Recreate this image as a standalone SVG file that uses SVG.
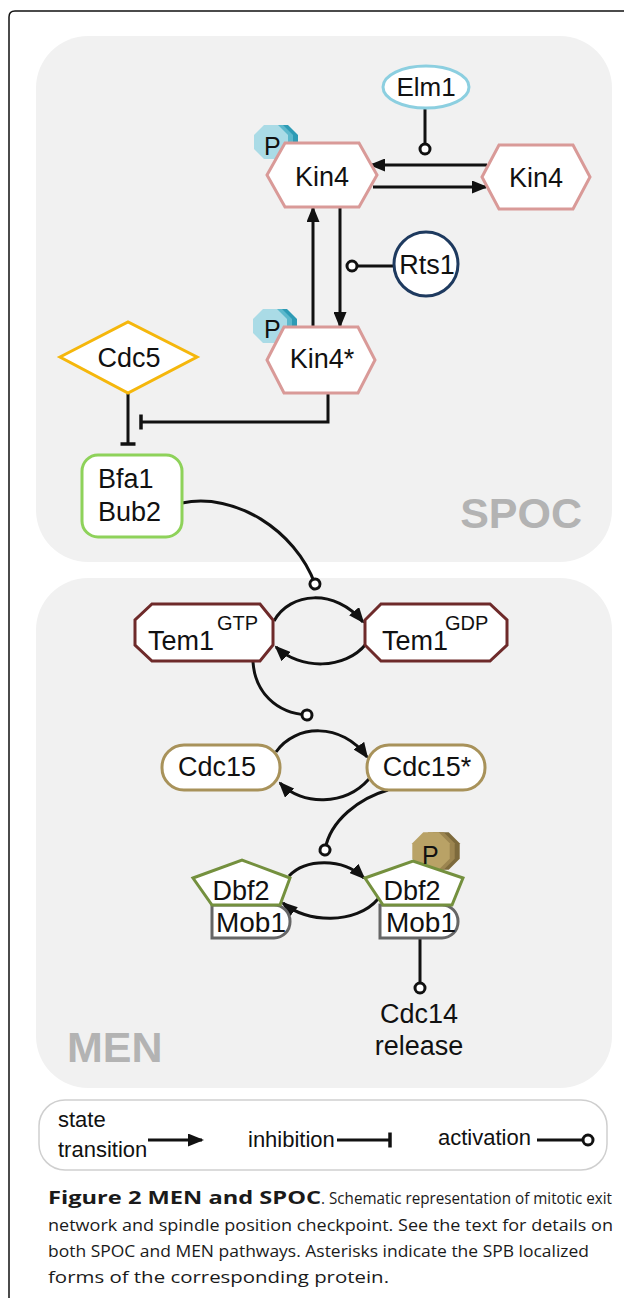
<svg xmlns="http://www.w3.org/2000/svg" width="624" height="1302" viewBox="0 0 624 1302">
<style>
.panel{fill:#f1f1f1}
.lbl{font-family:"Liberation Sans",Arial,sans-serif;font-size:27px;fill:#111}
.c{text-anchor:middle}
.sup{font-family:"Liberation Sans",Arial,sans-serif;font-size:20px;fill:#111}
.big{font-family:"Liberation Sans",Arial,sans-serif;font-size:43px;font-weight:bold;fill:#b3b3b3}
.leg{font-family:"Liberation Sans",Arial,sans-serif;font-size:22px;fill:#111}
.cap{font-family:"Open Sans","Liberation Sans",sans-serif;font-size:16.5px;fill:#1a1a1a}
.capb{font-family:"Open Sans","Liberation Sans",sans-serif;font-size:17px;font-weight:bold;fill:#1a1a1a}
.node{fill:#fff;stroke-width:3;stroke-linejoin:miter}
.kin{stroke:#d99a98}
.tem{stroke:#6e2a2a}
.cdc15{stroke:#a8925a}
.dbf{stroke:#74903e}
.mob{stroke:#666}
.edge{fill:none;stroke:#111;stroke-width:3}
.arr{marker-end:url(#arrow)}
.inh{marker-end:url(#bar)}
.act{marker-end:url(#circ)}
</style>
<defs>
<marker id="arrow" markerUnits="userSpaceOnUse" viewBox="0 0 16 13" refX="14" refY="6.5" markerWidth="16" markerHeight="13" orient="auto">
<path d="M0,0 L16,6.5 L0,13 z" fill="#111"/>
</marker>
<marker id="bar" markerUnits="userSpaceOnUse" viewBox="-2 -9 4 18" refX="0" refY="0" markerWidth="4" markerHeight="18" orient="auto">
<path d="M0,-7.5 L0,7.5" stroke="#111" stroke-width="3.5"/>
</marker>
<marker id="circ" markerUnits="userSpaceOnUse" viewBox="-8 -8 16 16" refX="0" refY="0" markerWidth="16" markerHeight="16" orient="auto">
<circle cx="0" cy="0" r="5" fill="#fff" stroke="#111" stroke-width="3"/>
</marker>
<polygon id="oct" points="7,-17 17,-7 17,7 7,17 -7,17 -17,7 -17,-7 -7,-17"/>
</defs>

<!-- frame -->
<path d="M9 1298 L9 17 Q9 11 15 11 L624 11" fill="none" stroke="#111" stroke-width="1.5"/>

<!-- panels -->
<g id="spoc-panel">
<rect class="panel" x="36" y="36" width="576" height="526" rx="52"/>
<text class="big" x="582" y="528" text-anchor="end">SPOC</text>
</g>
<g id="men-panel">
<rect class="panel" x="36" y="578" width="576" height="510" rx="52"/>
<text class="big" x="67" y="1062">MEN</text>
</g>

<!-- connectors -->
<g id="connectors">
<path class="edge act" d="M425 109 L425 149"/>
<path class="edge arr" d="M487 165 L371 165"/>
<path class="edge arr" d="M373 187 L486 187"/>
<path class="edge arr" d="M313 327 L313 208"/>
<path class="edge arr" d="M340 207 L340 326"/>
<path class="edge act" d="M394 266 L352 266"/>
<path class="edge inh" d="M128 393 L128 444"/>
<path class="edge inh" d="M328 393 L328 422 L141 422"/>
<path class="edge act" d="M182 503 C235 492 295 530 315 584"/>
<path class="edge arr" d="M274 621 C290 592 335 588 363 622"/>
<path class="edge arr" d="M366 644 C345 670 300 670 276 647"/>
<path class="edge act" d="M253 662 C255 692 276 713 307 715"/>
<path class="edge arr" d="M276 752 C295 724 342 722 367 757"/>
<path class="edge arr" d="M369 779 C345 806 302 806 280 783"/>
<path class="edge act" d="M388 790 C360 798 330 820 325 850"/>
<path class="edge arr" d="M289 876 C305 859 342 857 364 878"/>
<path class="edge arr" d="M378 899 C356 925 306 923 283 903"/>
<path class="edge act" d="M420 938 L420 988"/>
</g>

<!-- nodes -->
<g id="elm1">
<ellipse class="node" cx="426" cy="87" rx="43" ry="21" stroke="#8ccfe0"/>
<text class="lbl c" x="426" y="96" style="font-size:26px">Elm1</text>
</g>

<g id="kin4-p">
<use href="#oct" x="281" y="142" fill="#2e9bb5"/>
<use href="#oct" x="276" y="142" fill="#5cb8cc"/>
<use href="#oct" x="271" y="142" fill="#aadbe6"/>
<polygon class="node kin" points="267,175 285,143 359,143 377,175 359,207 285,207"/>
<text class="lbl" x="264" y="155" style="font-size:25px">P</text>
<text class="lbl c" x="322" y="186">Kin4</text>
</g>

<g id="kin4">
<polygon class="node kin" points="482,177 499,145 573,145 590,177 573,209 499,209"/>
<text class="lbl c" x="536" y="187">Kin4</text>
</g>

<g id="rts1">
<circle class="node" cx="426" cy="264" r="32" stroke="#1e3a5f"/>
<text class="lbl c" x="427" y="274">Rts1</text>
</g>

<g id="kin4-star">
<use href="#oct" x="280" y="326" fill="#2e9bb5"/>
<use href="#oct" x="275" y="326" fill="#5cb8cc"/>
<use href="#oct" x="270" y="326" fill="#aadbe6"/>
<polygon class="node kin" points="267,360 284,327 358,327 375,360 358,393 284,393"/>
<text class="lbl" x="264" y="338" style="font-size:25px">P</text>
<text class="lbl c" x="322" y="368">Kin4*</text>
</g>

<g id="cdc5">
<polygon class="node" points="60,357 128,322 197,357 128,393" stroke="#f5b70c"/>
<text class="lbl c" x="129" y="367">Cdc5</text>
</g>

<g id="bfa1-bub2">
<rect class="node" x="82" y="455" width="100" height="82" rx="16" stroke="#8ed25a"/>
<text class="lbl" x="98" y="488">Bfa1</text>
<text class="lbl" x="98" y="521">Bub2</text>
</g>

<g id="tem1-gtp">
<polygon class="node tem" points="152,604 260,604 273,620 273,645 260,661 152,661 135,645 135,620"/>
<text class="lbl" x="148" y="650">Tem1</text>
<text class="sup" x="217" y="630">GTP</text>
</g>

<g id="tem1-gdp">
<polygon class="node tem" points="381,604 490,604 507,620 507,645 490,661 381,661 365,645 365,620"/>
<text class="lbl" x="382" y="650">Tem1</text>
<text class="sup" x="445" y="630">GDP</text>
</g>

<g id="cdc15">
<rect class="node cdc15" x="162" y="745" width="118" height="45" rx="22"/>
<text class="lbl c" x="217" y="776">Cdc15</text>
</g>

<g id="cdc15-star">
<rect class="node cdc15" x="367" y="745" width="118" height="45" rx="22"/>
<text class="lbl c" x="427" y="776">Cdc15*</text>
</g>

<g id="dbf2-mob1">
<path class="node mob" d="M212 905 L274 905 A16 16 0 0 1 290 921 L290 922 A16 16 0 0 1 274 938 L212 938 Z"/>
<polygon class="node dbf" points="193,878 242,860 290,878 280,905 212,905"/>
<text class="lbl c" x="241" y="900">Dbf2</text>
<text class="lbl c" x="251" y="932" style="font-size:28px">Mob1</text>
</g>

<g id="dbf2-mob1-p">
<use href="#oct" x="441" y="851" fill="#7d6a3c" transform="translate(441 851) scale(1.1) translate(-441 -851)"/>
<use href="#oct" x="436" y="851" fill="#9c8550" transform="translate(436 851) scale(1.1) translate(-436 -851)"/>
<use href="#oct" x="431" y="851" fill="#b9a266" transform="translate(431 851) scale(1.1) translate(-431 -851)"/>
<path class="node mob" d="M380 905 L442 905 A16 16 0 0 1 458 921 L458 922 A16 16 0 0 1 442 938 L380 938 Z"/>
<polygon class="node dbf" points="365,878 413,861 463,878 452,905 383,905"/>
<text class="lbl" x="422" y="864" style="font-size:25px">P</text>
<text class="lbl c" x="412" y="900">Dbf2</text>
<text class="lbl c" x="421" y="932" style="font-size:28px">Mob1</text>
</g>

<g id="cdc14-release">
<text class="lbl c" x="419" y="1023">Cdc14</text>
<text class="lbl c" x="419" y="1055">release</text>
</g>

<!-- legend -->
<g id="legend">
<rect x="39" y="1100" width="568" height="70" rx="26" fill="#fff" stroke="#cfcfcf" stroke-width="1.5"/>
<text class="leg" x="58" y="1127">state</text>
<text class="leg" x="58" y="1157">transition</text>
<path class="edge arr" d="M148 1140 L202 1140"/>
<text class="leg" x="248" y="1147">inhibition</text>
<path class="edge inh" d="M337 1140 L390 1140"/>
<text class="leg" x="438" y="1145">activation</text>
<path class="edge act" d="M537 1140 L588 1140"/>
</g>

<!-- caption -->
<g id="caption">
<text class="capb" x="48" y="1204" textLength="273" lengthAdjust="spacingAndGlyphs">Figure 2 MEN and SPOC</text>
<text class="cap" x="321" y="1204" style="font-size:15.5px" textLength="291" lengthAdjust="spacingAndGlyphs">. Schematic representation of mitotic exit</text>
<text class="cap" x="48" y="1231" textLength="565" lengthAdjust="spacingAndGlyphs">network and spindle position checkpoint. See the text for details on</text>
<text class="cap" x="48" y="1257" textLength="541" lengthAdjust="spacingAndGlyphs">both SPOC and MEN pathways. Asterisks indicate the SPB localized</text>
<text class="cap" x="48" y="1283" textLength="341" lengthAdjust="spacingAndGlyphs">forms of the corresponding protein.</text>
</g>
</svg>
